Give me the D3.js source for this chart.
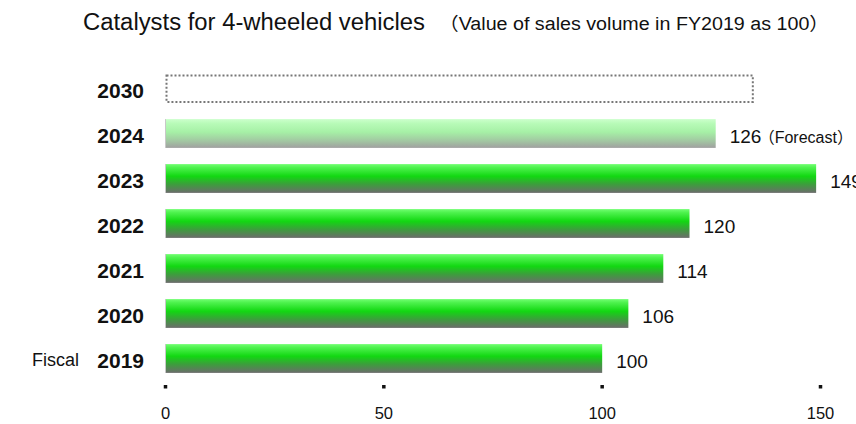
<!DOCTYPE html>
<html lang="en">
<head>
	<meta charset="utf-8">
	<title>Catalysts for 4-wheeled vehicles</title>
	<script src="https://cdn.jsdelivr.net/npm/d3@7"></script>
	<style>
		body { margin: 0; background: #fff; }
		svg text { font-family: "Liberation Sans", Arial, "Noto Sans CJK JP", sans-serif; fill: #111; }
	</style>
</head>
<body>
	<div id="viz"></div>
	<script>
	const WIDTH = 856;
	const HEIGHT = 424;

	// data, bottom to top
	var years = ["2019", "2020", "2021", "2022", "2023", "2024", "2030"];
	var values = [100, 106, 114, 120, 149, 126, null];
	var forecastYear = "2024";
	var outlookYear = "2030";
	var outlookValue = 134.5;   // dotted box, no label
	var ticks = [0, 50, 100, 150];

	var svg = d3.select("#viz").append("svg")
		.attr("width", WIDTH)
		.attr("height", HEIGHT);

	var defs = svg.append("defs");

	function grad(id, stops) {
		var g = defs.append("linearGradient").attr("id", id)
			.attr("x1", 0).attr("y1", 0).attr("x2", 0).attr("y2", 1);
		stops.forEach(function(s) {
			g.append("stop").attr("offset", s[0]).attr("stop-color", s[1]);
		});
	}
	grad("gActual", [[0, "#72ff72"], [0.12, "#4ef24e"], [0.42, "#12d812"], [0.7, "#3c9e3c"], [1, "#6c6c6c"]]);
	grad("gForecast", [[0, "#ccffcc"], [0.15, "#b8fbb8"], [0.45, "#a6f0a6"], [0.75, "#a2c8a2"], [1, "#a0a0a0"]]);

	var x = d3.scaleLinear().domain([0, 150]).range([165.5, 820.5]);
	var y = d3.scaleBand().domain(years.slice().reverse())
		.range([66, 381]).paddingInner(0.36).paddingOuter(0.18);

	// title
	svg.append("text").attr("x", 83).attr("y", 30)
		.style("font-size", "23.5px")
		.attr("textLength", 342).attr("lengthAdjust", "spacingAndGlyphs")
		.text("Catalysts for 4-wheeled vehicles");
	svg.append("text").attr("x", 439).attr("y", 30)
		.style("font-size", "18px")
		.attr("textLength", 390).attr("lengthAdjust", "spacingAndGlyphs")
		.text("\uFF08Value of sales volume in FY2019 as 100\uFF09");

	// bars
	var rows = years.map(function(d, i) { return { year: d, value: values[i] }; });
	var actual = rows.filter(function(d) { return d.value !== null; });

	svg.selectAll("rect.bar").data(actual).enter().append("rect")
		.attr("class", "bar")
		.attr("x", x(0))
		.attr("y", function(d) { return y(d.year); })
		.attr("width", function(d) { return x(d.value) - x(0); })
		.attr("height", y.bandwidth())
		.attr("fill", function(d) { return d.year === forecastYear ? "url(#gForecast)" : "url(#gActual)"; });

	// thin left edge of each bar
	svg.selectAll("line.edge").data(actual).enter().append("line")
		.attr("x1", x(0)).attr("x2", x(0))
		.attr("y1", function(d) { return y(d.year); })
		.attr("y2", function(d) { return y(d.year) + y.bandwidth(); })
		.attr("stroke", "#c8c8c8").attr("stroke-width", 1);

	// 2030 dotted box
	svg.append("rect")
		.attr("x", x(0) + 1)
		.attr("y", y(outlookYear) + 1.5)
		.attr("width", x(outlookValue) - x(0) - 1)
		.attr("height", y.bandwidth() - 2.5)
		.attr("fill", "none")
		.attr("stroke", "#777")
		.attr("stroke-width", 2)
		.attr("stroke-dasharray", "2,2");

	// value labels
	svg.selectAll("text.val").data(actual).enter().append("text")
		.attr("class", "val")
		.attr("x", function(d) { return x(d.value) + 14; })
		.attr("y", function(d) { return y(d.year) + y.bandwidth() / 2 + 9.5; })
		.style("font-size", "19px")
		.text(function(d) { return d.value; });

	svg.append("text")
		.attr("x", x(values[years.indexOf(forecastYear)]) + 43)
		.attr("y", y(forecastYear) + y.bandwidth() / 2 + 9)
		.style("font-size", "16px")
		.text("\uFF08Forecast\uFF09");

	// category labels
	svg.selectAll("text.cat").data(years).enter().append("text")
		.attr("class", "cat")
		.attr("x", 144)
		.attr("y", function(d) { return y(d) + y.bandwidth() / 2 + 9.5; })
		.attr("text-anchor", "end")
		.style("font-size", "21px")
		.style("font-weight", "bold")
		.text(function(d) { return d; });

	svg.append("text").attr("x", 32).attr("y", y("2019") + y.bandwidth() / 2 + 7.5)
		.style("font-size", "18px").text("Fiscal");

	// x axis: square tick marks + labels
	svg.selectAll("rect.tick").data(ticks).enter().append("rect")
		.attr("class", "tick")
		.attr("x", function(d) { return x(d) - 1.75; })
		.attr("y", 385)
		.attr("width", 3.5).attr("height", 3.5)
		.attr("fill", "#111");

	svg.selectAll("text.tickl").data(ticks).enter().append("text")
		.attr("class", "tickl")
		.attr("x", function(d) { return x(d); })
		.attr("y", 419)
		.attr("text-anchor", "middle")
		.style("font-size", "16.5px")
		.text(function(d) { return d; });
	</script>
</body>
</html>
